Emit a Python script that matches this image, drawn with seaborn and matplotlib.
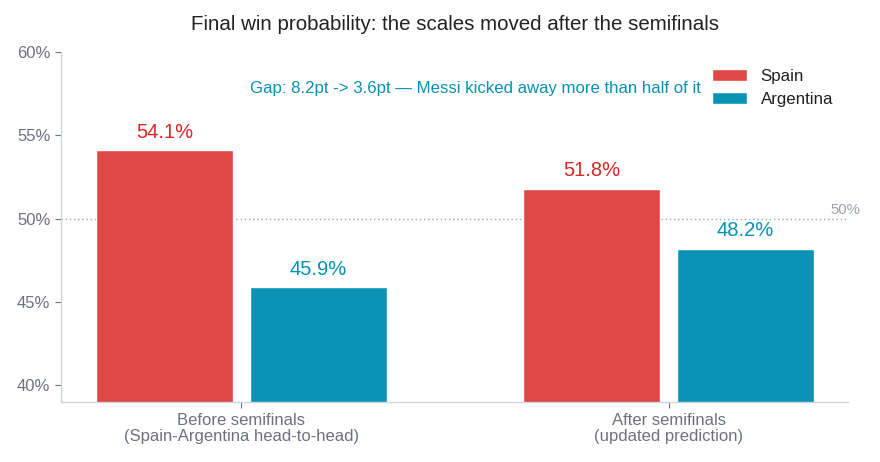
import pandas as pd
import matplotlib
matplotlib.use('Agg')
import matplotlib.pyplot as plt
import seaborn as sns

# dados
etapas = ['Before semifinals\n(Spain-Argentina head-to-head)', 'After semifinals\n(updated prediction)']
espanha = [54.1, 51.8]
argentina = [45.9, 48.2]
times = ['Spain', 'Argentina']
cores = ['#E04848', '#0A93B5']
cores_texto = ['#DC2626', '#0891B2']

dados = pd.DataFrame({
    'Etapa': etapas * 2,
    'Time': [times[0]] * 2 + [times[1]] * 2,
    'Prob': espanha + argentina,
})

sns.set_theme(style='white')
plt.rcParams['font.family'] = ['Liberation Sans', 'DejaVu Sans']

fig = plt.figure(figsize=(8.8, 4.62), dpi=100)
ax = fig.add_axes([0.069, 0.130, 0.895, 0.757])

sns.barplot(data=dados, x='Etapa', y='Prob', hue='Time', palette=cores,
            width=0.72, gap=0.111, saturation=1, ax=ax)

ax.set_ylim(39, 60)
ax.set_xlim(-0.4227, 1.4204)
ax.set_yticks([40, 45, 50, 55, 60])
ax.set_yticklabels([f'{v}%' for v in [40, 45, 50, 55, 60]])
ax.set_xlabel('')
ax.set_ylabel('')

# rótulos das barras
for cont, cor in zip(ax.containers, cores_texto):
    ax.bar_label(cont, labels=[f'{b.get_height():.1f}%' for b in cont],
                 padding=6, color=cor, fontsize=14.5)

# linha de 50%
ax.axhline(50, color='#a0a7b0', linestyle=(0, (1, 2)), linewidth=1, zorder=0)
ax.text(0.996, 50.12, '50%', transform=ax.get_yaxis_transform(), ha='center', va='bottom',
        color='#9aa1aa', fontsize=10.7, clip_on=False)

ax.text(0.526, 57.84, 'Gap: 8.2pt -> 3.6pt — Messi kicked away more than half of it',
        transform=ax.get_yaxis_transform(), ha='center', va='center',
        color='#0891B2', fontsize=12.1)

ax.set_title('Final win probability: the scales moved after the semifinals',
             fontsize=14.8, color='#222222', pad=16)

for lado in ['top', 'right']:
    ax.spines[lado].set_visible(False)
for lado in ['left', 'bottom']:
    ax.spines[lado].set_color('#cfd5dd')
    ax.spines[lado].set_linewidth(1)

ax.tick_params(axis='y', colors='#6b7280', labelsize=12, length=4, left=True, color='#6b7280', width=0.8)
ax.tick_params(axis='x', colors='#6b7280', labelsize=12, length=4, bottom=True, color='#6b7280',
               width=0.8, pad=4)
for t in ax.get_xticklabels():
    t.set_linespacing(1.05)

ax.legend(title=None, frameon=False, loc='upper right', bbox_to_anchor=(1.0, 0.995),
          fontsize=12.2, handlelength=2.05, handleheight=0.7, labelspacing=0.45,
          handletextpad=0.8)
for t in ax.get_legend().get_texts():
    t.set_color('#222222')

fig.savefig('out.png', dpi=100)
